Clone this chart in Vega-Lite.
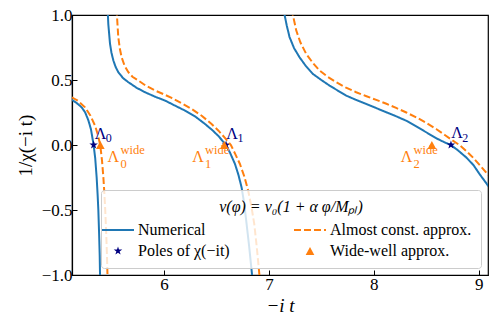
{
  "$schema": "https://vega.github.io/schema/vega-lite/v6.json",
  "width": 416,
  "height": 260,
  "autosize": {"type": "none"},
  "padding": {"left": 72, "top": 15, "right": 9, "bottom": 50},
  "background": "white",
  "config": {
    "font": "Liberation Serif",
    "view": {"stroke": "black", "strokeWidth": 1.2},
    "axis": {
      "domainColor": "black", "tickColor": "black", "labelColor": "black", "titleColor": "black",
      "grid": false, "labelFont": "Liberation Serif", "titleFont": "Liberation Serif",
      "labelFontSize": 17, "titleFontSize": 19, "titleFontWeight": "normal",
      "tickSize": -5, "domainWidth": 1.2, "tickWidth": 1
    }
  },
  "datasets": {
    "curves": [
      {"x": 5.121, "y": 0.349, "series": "Numerical", "branch": "b1"},
      {"x": 5.17, "y": 0.322, "series": "Numerical", "branch": "b1"},
      {"x": 5.216, "y": 0.29, "series": "Numerical", "branch": "b1"},
      {"x": 5.25, "y": 0.25, "series": "Numerical", "branch": "b1"},
      {"x": 5.28, "y": 0.19, "series": "Numerical", "branch": "b1"},
      {"x": 5.305, "y": 0.12, "series": "Numerical", "branch": "b1"},
      {"x": 5.33, "y": 0.0, "series": "Numerical", "branch": "b1"},
      {"x": 5.345, "y": -0.1, "series": "Numerical", "branch": "b1"},
      {"x": 5.359, "y": -0.25, "series": "Numerical", "branch": "b1"},
      {"x": 5.368, "y": -0.38, "series": "Numerical", "branch": "b1"},
      {"x": 5.375, "y": -0.5, "series": "Numerical", "branch": "b1"},
      {"x": 5.383, "y": -0.7, "series": "Numerical", "branch": "b1"},
      {"x": 5.388, "y": -0.85, "series": "Numerical", "branch": "b1"},
      {"x": 5.392, "y": -1.05, "series": "Numerical", "branch": "b1"},
      {"x": 5.463, "y": 1.05, "series": "Numerical", "branch": "b2"},
      {"x": 5.47, "y": 0.93, "series": "Numerical", "branch": "b2"},
      {"x": 5.486, "y": 0.78, "series": "Numerical", "branch": "b2"},
      {"x": 5.5, "y": 0.71, "series": "Numerical", "branch": "b2"},
      {"x": 5.518, "y": 0.65, "series": "Numerical", "branch": "b2"},
      {"x": 5.54, "y": 0.6, "series": "Numerical", "branch": "b2"},
      {"x": 5.565, "y": 0.56, "series": "Numerical", "branch": "b2"},
      {"x": 5.61, "y": 0.515, "series": "Numerical", "branch": "b2"},
      {"x": 5.661, "y": 0.483, "series": "Numerical", "branch": "b2"},
      {"x": 5.74, "y": 0.44, "series": "Numerical", "branch": "b2"},
      {"x": 5.819, "y": 0.406, "series": "Numerical", "branch": "b2"},
      {"x": 5.92, "y": 0.37, "series": "Numerical", "branch": "b2"},
      {"x": 6.01, "y": 0.342, "series": "Numerical", "branch": "b2"},
      {"x": 6.1, "y": 0.305, "series": "Numerical", "branch": "b2"},
      {"x": 6.2, "y": 0.265, "series": "Numerical", "branch": "b2"},
      {"x": 6.3, "y": 0.218, "series": "Numerical", "branch": "b2"},
      {"x": 6.391, "y": 0.162, "series": "Numerical", "branch": "b2"},
      {"x": 6.46, "y": 0.115, "series": "Numerical", "branch": "b2"},
      {"x": 6.518, "y": 0.07, "series": "Numerical", "branch": "b2"},
      {"x": 6.56, "y": 0.03, "series": "Numerical", "branch": "b2"},
      {"x": 6.592, "y": 0.0, "series": "Numerical", "branch": "b2"},
      {"x": 6.63, "y": -0.06, "series": "Numerical", "branch": "b2"},
      {"x": 6.677, "y": -0.146, "series": "Numerical", "branch": "b2"},
      {"x": 6.71, "y": -0.23, "series": "Numerical", "branch": "b2"},
      {"x": 6.74, "y": -0.326, "series": "Numerical", "branch": "b2"},
      {"x": 6.765, "y": -0.45, "series": "Numerical", "branch": "b2"},
      {"x": 6.788, "y": -0.609, "series": "Numerical", "branch": "b2"},
      {"x": 6.812, "y": -0.78, "series": "Numerical", "branch": "b2"},
      {"x": 6.84, "y": -1.0, "series": "Numerical", "branch": "b2"},
      {"x": 6.843, "y": -1.05, "series": "Numerical", "branch": "b2"},
      {"x": 7.145, "y": 1.05, "series": "Numerical", "branch": "b3"},
      {"x": 7.15, "y": 1.0, "series": "Numerical", "branch": "b3"},
      {"x": 7.17, "y": 0.92, "series": "Numerical", "branch": "b3"},
      {"x": 7.197, "y": 0.83, "series": "Numerical", "branch": "b3"},
      {"x": 7.24, "y": 0.745, "series": "Numerical", "branch": "b3"},
      {"x": 7.292, "y": 0.675, "series": "Numerical", "branch": "b3"},
      {"x": 7.35, "y": 0.61, "series": "Numerical", "branch": "b3"},
      {"x": 7.419, "y": 0.547, "series": "Numerical", "branch": "b3"},
      {"x": 7.5, "y": 0.5, "series": "Numerical", "branch": "b3"},
      {"x": 7.578, "y": 0.457, "series": "Numerical", "branch": "b3"},
      {"x": 7.66, "y": 0.417, "series": "Numerical", "branch": "b3"},
      {"x": 7.737, "y": 0.38, "series": "Numerical", "branch": "b3"},
      {"x": 7.83, "y": 0.347, "series": "Numerical", "branch": "b3"},
      {"x": 7.927, "y": 0.316, "series": "Numerical", "branch": "b3"},
      {"x": 8.02, "y": 0.285, "series": "Numerical", "branch": "b3"},
      {"x": 8.118, "y": 0.252, "series": "Numerical", "branch": "b3"},
      {"x": 8.21, "y": 0.222, "series": "Numerical", "branch": "b3"},
      {"x": 8.308, "y": 0.187, "series": "Numerical", "branch": "b3"},
      {"x": 8.4, "y": 0.145, "series": "Numerical", "branch": "b3"},
      {"x": 8.499, "y": 0.098, "series": "Numerical", "branch": "b3"},
      {"x": 8.6, "y": 0.05, "series": "Numerical", "branch": "b3"},
      {"x": 8.68, "y": 0.018, "series": "Numerical", "branch": "b3"},
      {"x": 8.735, "y": 0.0, "series": "Numerical", "branch": "b3"},
      {"x": 8.8, "y": -0.04, "series": "Numerical", "branch": "b3"},
      {"x": 8.88, "y": -0.095, "series": "Numerical", "branch": "b3"},
      {"x": 8.95, "y": -0.155, "series": "Numerical", "branch": "b3"},
      {"x": 9.007, "y": -0.223, "series": "Numerical", "branch": "b3"},
      {"x": 9.05, "y": -0.27, "series": "Numerical", "branch": "b3"},
      {"x": 9.095, "y": -0.32, "series": "Numerical", "branch": "b3"},
      {"x": 5.121, "y": 0.367, "series": "Almost const. approx.", "branch": "o1"},
      {"x": 5.18, "y": 0.34, "series": "Almost const. approx.", "branch": "o1"},
      {"x": 5.248, "y": 0.29, "series": "Almost const. approx.", "branch": "o1"},
      {"x": 5.3, "y": 0.225, "series": "Almost const. approx.", "branch": "o1"},
      {"x": 5.343, "y": 0.15, "series": "Almost const. approx.", "branch": "o1"},
      {"x": 5.37, "y": 0.08, "series": "Almost const. approx.", "branch": "o1"},
      {"x": 5.393, "y": 0.0, "series": "Almost const. approx.", "branch": "o1"},
      {"x": 5.41, "y": -0.12, "series": "Almost const. approx.", "branch": "o1"},
      {"x": 5.423, "y": -0.25, "series": "Almost const. approx.", "branch": "o1"},
      {"x": 5.433, "y": -0.38, "series": "Almost const. approx.", "branch": "o1"},
      {"x": 5.441, "y": -0.506, "series": "Almost const. approx.", "branch": "o1"},
      {"x": 5.451, "y": -0.7, "series": "Almost const. approx.", "branch": "o1"},
      {"x": 5.457, "y": -0.85, "series": "Almost const. approx.", "branch": "o1"},
      {"x": 5.464, "y": -1.05, "series": "Almost const. approx.", "branch": "o1"},
      {"x": 5.547, "y": 1.05, "series": "Almost const. approx.", "branch": "o2"},
      {"x": 5.552, "y": 1.0, "series": "Almost const. approx.", "branch": "o2"},
      {"x": 5.565, "y": 0.83, "series": "Almost const. approx.", "branch": "o2"},
      {"x": 5.58, "y": 0.74, "series": "Almost const. approx.", "branch": "o2"},
      {"x": 5.597, "y": 0.675, "series": "Almost const. approx.", "branch": "o2"},
      {"x": 5.625, "y": 0.61, "series": "Almost const. approx.", "branch": "o2"},
      {"x": 5.661, "y": 0.56, "series": "Almost const. approx.", "branch": "o2"},
      {"x": 5.7, "y": 0.525, "series": "Almost const. approx.", "branch": "o2"},
      {"x": 5.756, "y": 0.496, "series": "Almost const. approx.", "branch": "o2"},
      {"x": 5.83, "y": 0.455, "series": "Almost const. approx.", "branch": "o2"},
      {"x": 5.915, "y": 0.419, "series": "Almost const. approx.", "branch": "o2"},
      {"x": 6.0, "y": 0.39, "series": "Almost const. approx.", "branch": "o2"},
      {"x": 6.073, "y": 0.362, "series": "Almost const. approx.", "branch": "o2"},
      {"x": 6.17, "y": 0.32, "series": "Almost const. approx.", "branch": "o2"},
      {"x": 6.264, "y": 0.277, "series": "Almost const. approx.", "branch": "o2"},
      {"x": 6.36, "y": 0.225, "series": "Almost const. approx.", "branch": "o2"},
      {"x": 6.454, "y": 0.162, "series": "Almost const. approx.", "branch": "o2"},
      {"x": 6.52, "y": 0.11, "series": "Almost const. approx.", "branch": "o2"},
      {"x": 6.581, "y": 0.055, "series": "Almost const. approx.", "branch": "o2"},
      {"x": 6.638, "y": 0.0, "series": "Almost const. approx.", "branch": "o2"},
      {"x": 6.68, "y": -0.07, "series": "Almost const. approx.", "branch": "o2"},
      {"x": 6.724, "y": -0.146, "series": "Almost const. approx.", "branch": "o2"},
      {"x": 6.765, "y": -0.24, "series": "Almost const. approx.", "branch": "o2"},
      {"x": 6.803, "y": -0.352, "series": "Almost const. approx.", "branch": "o2"},
      {"x": 6.835, "y": -0.48, "series": "Almost const. approx.", "branch": "o2"},
      {"x": 6.861, "y": -0.609, "series": "Almost const. approx.", "branch": "o2"},
      {"x": 6.884, "y": -0.78, "series": "Almost const. approx.", "branch": "o2"},
      {"x": 6.91, "y": -1.0, "series": "Almost const. approx.", "branch": "o2"},
      {"x": 6.913, "y": -1.05, "series": "Almost const. approx.", "branch": "o2"},
      {"x": 7.225, "y": 1.05, "series": "Almost const. approx.", "branch": "o3"},
      {"x": 7.229, "y": 1.0, "series": "Almost const. approx.", "branch": "o3"},
      {"x": 7.261, "y": 0.88, "series": "Almost const. approx.", "branch": "o3"},
      {"x": 7.3, "y": 0.79, "series": "Almost const. approx.", "branch": "o3"},
      {"x": 7.356, "y": 0.7, "series": "Almost const. approx.", "branch": "o3"},
      {"x": 7.42, "y": 0.63, "series": "Almost const. approx.", "branch": "o3"},
      {"x": 7.483, "y": 0.573, "series": "Almost const. approx.", "branch": "o3"},
      {"x": 7.56, "y": 0.525, "series": "Almost const. approx.", "branch": "o3"},
      {"x": 7.642, "y": 0.483, "series": "Almost const. approx.", "branch": "o3"},
      {"x": 7.73, "y": 0.443, "series": "Almost const. approx.", "branch": "o3"},
      {"x": 7.832, "y": 0.406, "series": "Almost const. approx.", "branch": "o3"},
      {"x": 7.93, "y": 0.375, "series": "Almost const. approx.", "branch": "o3"},
      {"x": 8.023, "y": 0.347, "series": "Almost const. approx.", "branch": "o3"},
      {"x": 8.12, "y": 0.317, "series": "Almost const. approx.", "branch": "o3"},
      {"x": 8.213, "y": 0.285, "series": "Almost const. approx.", "branch": "o3"},
      {"x": 8.31, "y": 0.25, "series": "Almost const. approx.", "branch": "o3"},
      {"x": 8.404, "y": 0.213, "series": "Almost const. approx.", "branch": "o3"},
      {"x": 8.5, "y": 0.17, "series": "Almost const. approx.", "branch": "o3"},
      {"x": 8.594, "y": 0.123, "series": "Almost const. approx.", "branch": "o3"},
      {"x": 8.68, "y": 0.075, "series": "Almost const. approx.", "branch": "o3"},
      {"x": 8.753, "y": 0.033, "series": "Almost const. approx.", "branch": "o3"},
      {"x": 8.816, "y": 0.0, "series": "Almost const. approx.", "branch": "o3"},
      {"x": 8.88, "y": -0.045, "series": "Almost const. approx.", "branch": "o3"},
      {"x": 8.943, "y": -0.095, "series": "Almost const. approx.", "branch": "o3"},
      {"x": 9.01, "y": -0.155, "series": "Almost const. approx.", "branch": "o3"},
      {"x": 9.095, "y": -0.235, "series": "Almost const. approx.", "branch": "o3"}
    ],
    "markers": [
      {"x": 5.33, "y": 0, "series": "Poles of χ(−it)"},
      {"x": 6.592, "y": 0, "series": "Poles of χ(−it)"},
      {"x": 8.735, "y": 0, "series": "Poles of χ(−it)"},
      {"x": 5.394, "y": 0, "series": "Wide-well approx."},
      {"x": 6.575, "y": 0, "series": "Wide-well approx."},
      {"x": 8.553, "y": 0, "series": "Wide-well approx."}
    ],
    "labels": [
      {"x": 5.34, "y": 0.048, "text": "Λ", "group": "pole", "role": "main"},
      {"x": 6.594, "y": 0.048, "text": "Λ", "group": "pole", "role": "main"},
      {"x": 8.737, "y": 0.052, "text": "Λ", "group": "pole", "role": "main"},
      {"x": 5.445, "y": 0.022, "text": "0", "group": "pole", "role": "small"},
      {"x": 6.7, "y": 0.022, "text": "1", "group": "pole", "role": "small"},
      {"x": 8.843, "y": 0.026, "text": "2", "group": "pole", "role": "small"},
      {"x": 5.462, "y": -0.134, "text": "Λ", "group": "wide", "role": "main"},
      {"x": 6.269, "y": -0.134, "text": "Λ", "group": "wide", "role": "main"},
      {"x": 8.256, "y": -0.134, "text": "Λ", "group": "wide", "role": "main"},
      {"x": 5.585, "y": -0.174, "text": "0", "group": "wide", "role": "small"},
      {"x": 6.392, "y": -0.174, "text": "1", "group": "wide", "role": "small"},
      {"x": 8.379, "y": -0.174, "text": "2", "group": "wide", "role": "small"},
      {"x": 5.585, "y": -0.07, "text": "wide", "group": "wide", "role": "small"},
      {"x": 6.392, "y": -0.07, "text": "wide", "group": "wide", "role": "small"},
      {"x": 8.379, "y": -0.07, "text": "wide", "group": "wide", "role": "small"}
    ]
  },
  "layer": [
    {
      "mark": {"type": "rule", "color": "#7f7f7f", "strokeWidth": 1.5, "strokeDash": [6, 3]},
      "encoding": {"y": {"datum": 0, "type": "quantitative", "scale": {"domain": [-1, 1], "nice": false, "zero": false}}}
    },
    {
      "data": {"name": "curves"},
      "transform": [{"filter": "datum.series === 'Numerical'"}],
      "mark": {"type": "line", "strokeWidth": 2, "clip": true},
      "encoding": {
        "x": {"field": "x", "type": "quantitative", "scale": {"domain": [5.124, 9.088], "nice": false, "zero": false},
              "axis": {"values": [6, 7, 8, 9], "title": "−i t", "titleFontStyle": "italic", "labelPadding": 6, "titlePadding": 4, "format": "d", "labelFont": "Liberation Serif", "labelFontSize": 17}},
        "y": {"field": "y", "type": "quantitative", "scale": {"domain": [-1, 1], "nice": false, "zero": false},
              "axis": {"values": [-1, -0.5, 0, 0.5, 1], "format": ".1f", "title": "1/χ(−i t)", "labelPadding": 5, "titlePadding": 6, "labelFont": "Liberation Serif", "labelFontSize": 17}},
        "detail": {"field": "branch"},
        "color": {"field": "series", "type": "nominal",
          "scale": {"domain": ["Numerical", "Poles of χ(−it)", "Almost const. approx.", "Wide-well approx."], "range": ["#1f77b4", "#000080", "#ff7f0e", "#ff7f0e"]},
          "legend": {
            "title": "v(φ) = v₀(1 + α φ/Mₚₗ)",
            "orient": "bottom-right", "offset": 7, "columns": 2,
            "titleAnchor": "middle", "titleFont": "Liberation Serif", "titleFontSize": 16, "titleFontStyle": "italic", "titleFontWeight": "normal", "titleColor": "black", "titleLimit": 400, "titlePadding": 7,
            "labelFont": "Liberation Serif", "labelFontSize": 16, "labelColor": "black", "labelLimit": 400, "labelOffset": 12,
            "padding": 9, "rowPadding": 5, "columnPadding": 60,
            "fillColor": "rgba(255,255,255,0.8)", "strokeColor": "#cccccc", "cornerRadius": 3,
            "symbolSize": 1024,
            "encode": {"symbols": {"update": {
              "shape": {"scale": "shape", "field": "value"},
              "stroke": {"scale": "color", "field": "value"},
              "fill": {"scale": "color", "field": "value"},
              "strokeDash": {"scale": "strokeDash", "field": "value"},
              "size": {"value": 1024},
              "opacity": {"value": 1},
              "strokeWidth": {"signal": "indexof(['Numerical','Almost const. approx.'], datum.value) >= 0 ? 2 : 0"}
            }}}
          }},
        "strokeDash": {"field": "series", "type": "nominal",
          "scale": {"domain": ["Numerical", "Poles of χ(−it)", "Almost const. approx.", "Wide-well approx."], "range": [[1, 0], [1, 0], [7, 3], [1, 0]]},
          "legend": null}
      }
    },
    {
      "data": {"name": "markers"},
      "transform": [{"filter": "datum.series === 'Poles of χ(−it)'"}],
      "mark": {"type": "point", "filled": true, "size": 1024, "strokeWidth": 0, "opacity": 1},
      "encoding": {
        "x": {"field": "x", "type": "quantitative", "scale": {"domain": [5.124, 9.088], "nice": false, "zero": false}},
        "y": {"field": "y", "type": "quantitative", "scale": {"domain": [-1, 1], "nice": false, "zero": false}},
        "color": {"field": "series", "type": "nominal"},
        "shape": {"field": "series", "type": "nominal",
          "scale": {"domain": ["Numerical", "Poles of χ(−it)", "Almost const. approx.", "Wide-well approx."],
                    "range": ["M-1,0L1,0", "M0,-0.28L0.0629,-0.0865L0.2663,-0.0865L0.1016,0.033L0.1646,0.2265L0,0.107L-0.1646,0.2265L-0.1016,0.033L-0.2663,-0.0865L-0.0629,-0.0865Z", "M-1,0L1,0", "M0,-0.25L0.27,0.25L-0.27,0.25Z"]},
          "legend": null}
      }
    },
    {
      "data": {"name": "curves"},
      "transform": [{"filter": "datum.series === 'Almost const. approx.'"}],
      "mark": {"type": "line", "strokeWidth": 2, "clip": true},
      "encoding": {
        "x": {"field": "x", "type": "quantitative", "scale": {"domain": [5.124, 9.088], "nice": false, "zero": false}},
        "y": {"field": "y", "type": "quantitative", "scale": {"domain": [-1, 1], "nice": false, "zero": false}},
        "detail": {"field": "branch"},
        "color": {"field": "series", "type": "nominal"},
        "strokeDash": {"field": "series", "type": "nominal"}
      }
    },
    {
      "data": {"name": "markers"},
      "transform": [{"filter": "datum.series === 'Wide-well approx.'"}],
      "mark": {"type": "point", "filled": true, "size": 1024, "strokeWidth": 0, "opacity": 1},
      "encoding": {
        "x": {"field": "x", "type": "quantitative", "scale": {"domain": [5.124, 9.088], "nice": false, "zero": false}},
        "y": {"field": "y", "type": "quantitative", "scale": {"domain": [-1, 1], "nice": false, "zero": false}},
        "color": {"field": "series", "type": "nominal"},
        "shape": {"field": "series", "type": "nominal"}
      }
    },
    {
      "data": {"name": "labels"},
      "transform": [{"filter": "datum.group === 'pole' && datum.role === 'main'"}],
      "mark": {"type": "text", "align": "left", "baseline": "alphabetic", "font": "Liberation Serif", "fontSize": 16, "color": "#000080"},
      "encoding": {
        "x": {"field": "x", "type": "quantitative"},
        "y": {"field": "y", "type": "quantitative"},
        "text": {"field": "text"}
      }
    },
    {
      "data": {"name": "labels"},
      "transform": [{"filter": "datum.group === 'pole' && datum.role === 'small'"}],
      "mark": {"type": "text", "align": "left", "baseline": "alphabetic", "font": "Liberation Serif", "fontSize": 12, "color": "#000080"},
      "encoding": {
        "x": {"field": "x", "type": "quantitative"},
        "y": {"field": "y", "type": "quantitative"},
        "text": {"field": "text"}
      }
    },
    {
      "data": {"name": "labels"},
      "transform": [{"filter": "datum.group === 'wide' && datum.role === 'main'"}],
      "mark": {"type": "text", "align": "left", "baseline": "alphabetic", "font": "Liberation Serif", "fontSize": 16, "color": "#ff7f0e"},
      "encoding": {
        "x": {"field": "x", "type": "quantitative"},
        "y": {"field": "y", "type": "quantitative"},
        "text": {"field": "text"}
      }
    },
    {
      "data": {"name": "labels"},
      "transform": [{"filter": "datum.group === 'wide' && datum.role === 'small'"}],
      "mark": {"type": "text", "align": "left", "baseline": "alphabetic", "font": "Liberation Serif", "fontSize": 12.5, "color": "#ff7f0e"},
      "encoding": {
        "x": {"field": "x", "type": "quantitative"},
        "y": {"field": "y", "type": "quantitative"},
        "text": {"field": "text"}
      }
    }
  ]
}
